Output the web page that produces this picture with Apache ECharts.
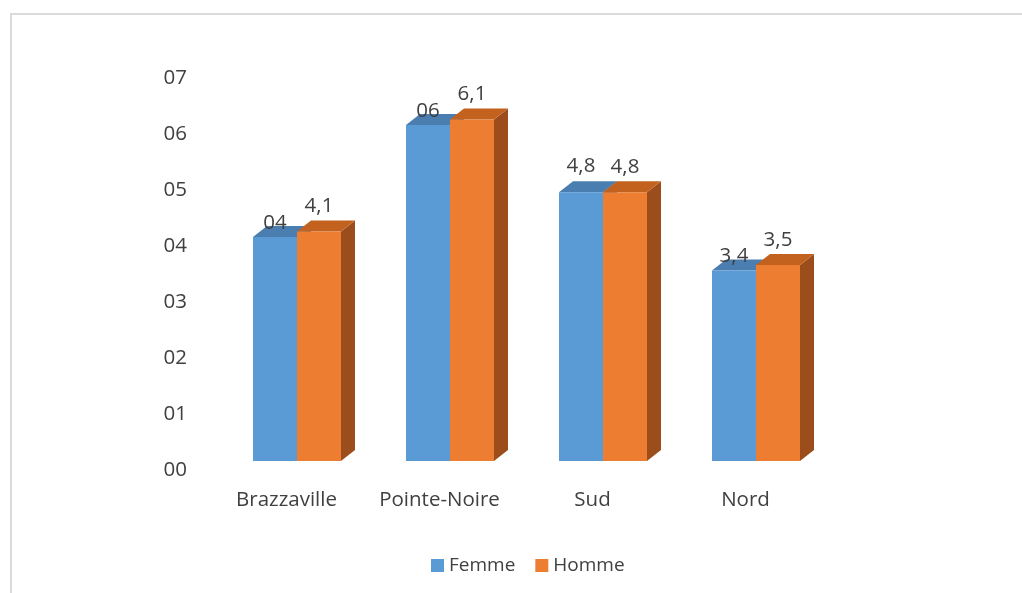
<!DOCTYPE html>
<html>
<head>
<meta charset="utf-8">
<script src="https://cdn.jsdelivr.net/npm/echarts@6/dist/echarts.min.js"></script>
<style>
  html, body { margin: 0; padding: 0; background: #fff; }
  #frame { position: absolute; left: 10px; top: 13px; width: 1012px; height: 580px;
           border-left: 2px solid #dadada; border-top: 2px solid #dadada; box-sizing: border-box; }
  #chart { position: absolute; left: 0; top: 0; width: 1022px; height: 593px; }
</style>
</head>
<body>
<div id="frame"></div>
<div id="chart"></div>
<script>
const categories = ['Brazzaville', 'Pointe-Noire', 'Sud', 'Nord'];
const femme = [4.0, 6.0, 4.8, 3.4];
const homme = [4.1, 6.1, 4.8, 3.5];
const yTicks = ['00', '01', '02', '03', '04', '05', '06', '07'];

const FONT = '"Open Sans", "Noto Sans", sans-serif';
const TEXT = '#404040';

function fmt(v) {
  if (Number.isInteger(v)) return (v < 10 ? '0' : '') + v;
  return String(v).replace('.', ',');
}

const styles = {
  Femme: { front: '#5B9BD5', top: '#4A7EB0', side: '#3F6E9B', slot: 0 },
  Homme: { front: '#ED7D31', top: '#C3611F', side: '#9C4D1C', slot: 1 }
};

function makeRender(name) {
  const st = styles[name];
  return function (params, api) {
    const idx = api.value(0);
    const val = api.value(1);
    const top = api.coord([idx, val]);
    const base = api.coord([idx, 0]);
    const band = api.size([1, 0])[0];
    const bw = band * 0.2876;
    const shift = band * 0.0686;
    const dx = 14, dy = 11;
    const x0 = top[0] + shift - bw + st.slot * bw;
    const x1 = x0 + bw;
    const yt = top[1], yb = base[1];
    let lift = name === 'Femme' ? 14 : 25;
    if (name === 'Femme' && femme[idx] === homme[idx]) lift = 26;
    return {
      type: 'group',
      children: [
        { type: 'polygon', shape: { points: [[x1, yt], [x1 + dx, yt - dy], [x1 + dx, yb - dy], [x1, yb]] },
          style: { fill: st.side } },
        { type: 'polygon', shape: { points: [[x0, yt], [x0 + dx, yt - dy], [x1 + dx, yt - dy], [x1, yt]] },
          style: { fill: st.top } },
        { type: 'rect', shape: { x: x0, y: yt, width: bw, height: yb - yt },
          style: { fill: st.front } },
        { type: 'text', z2: 100,
          style: { x: (x0 + x1) / 2, y: yt - lift, text: fmt(val), align: 'center', verticalAlign: 'middle',
                   font: '20.5px ' + FONT, fill: TEXT } }
      ]
    };
  };
}

const chart = echarts.init(document.getElementById('chart'), null, { renderer: 'canvas' });
chart.setOption({
  animation: false,
  grid: { left: 210, right: 200, top: 69, bottom: 132 },
  xAxis: {
    type: 'category', data: categories,
    axisLine: { show: false }, axisTick: { show: false },
    axisLabel: { interval: 0, color: TEXT, fontFamily: FONT, fontSize: 20.5, margin: 29 }
  },
  yAxis: {
    type: 'value', min: 0, max: 7, interval: 1,
    splitLine: { show: false }, axisLine: { show: false }, axisTick: { show: false },
    axisLabel: { color: TEXT, fontFamily: FONT, fontSize: 20.5, margin: 23,
                 verticalAlign: 'top', lineHeight: 19,
                 formatter: (v) => yTicks[v] }
  },
  legend: {
    left: 426, top: 551, icon: 'rect', itemWidth: 13, itemHeight: 13, itemGap: 20,
    textStyle: { color: TEXT, fontFamily: FONT, fontSize: 19 },
    data: ['Femme', 'Homme']
  },
  series: [
    { name: 'Femme', type: 'custom', renderItem: makeRender('Femme'),
      itemStyle: { color: styles.Femme.front },
      data: femme.map((v, i) => [i, v]), encode: { x: 0, y: 1 } },
    { name: 'Homme', type: 'custom', renderItem: makeRender('Homme'),
      itemStyle: { color: styles.Homme.front },
      data: homme.map((v, i) => [i, v]), encode: { x: 0, y: 1 } }
  ]
});
</script>
</body>
</html>
